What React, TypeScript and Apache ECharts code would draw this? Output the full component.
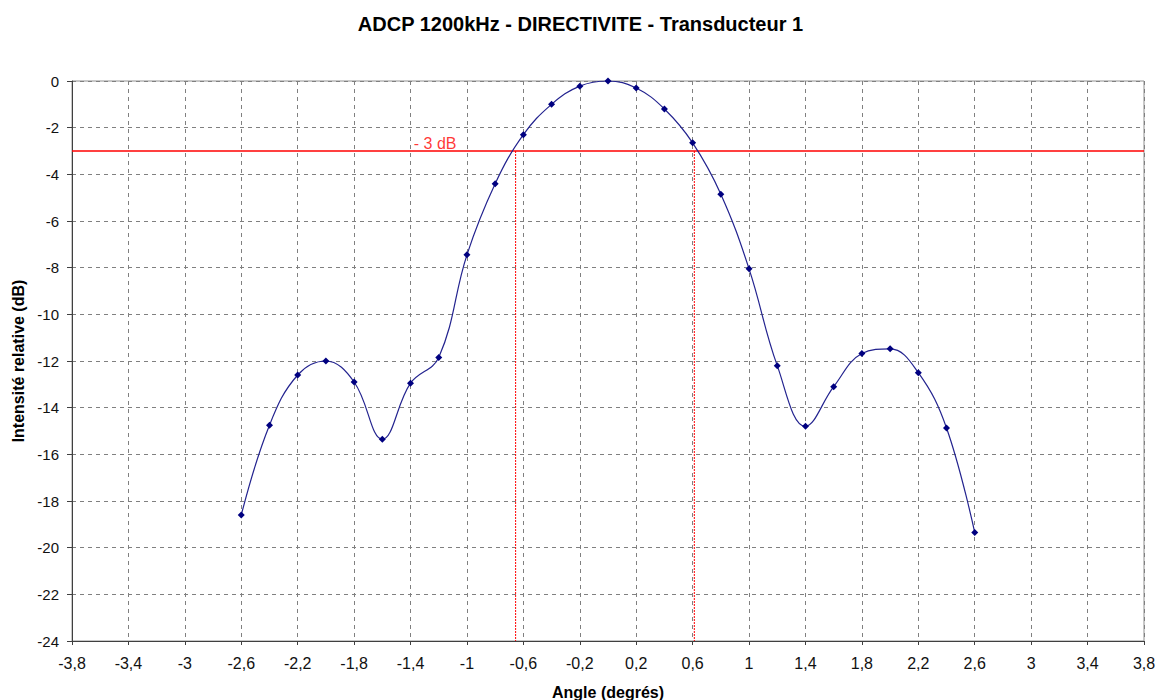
import React, { useEffect, useRef } from "react";
import * as echarts from "echarts";

const TITLE = "ADCP 1200kHz - DIRECTIVITE - Transducteur 1";
const X_NAME = "Angle (degrés)";
const Y_NAME = "Intensité relative (dB)";

const X_MIN = -3.8;
const X_MAX = 3.8;
const X_STEP = 0.4;
const Y_MIN = -24;
const Y_MAX = 0;
const Y_STEP = 2;

const angles = [
  -2.6, -2.4, -2.2, -2.0, -1.8, -1.6, -1.4, -1.2, -1.0, -0.8, -0.6, -0.4, -0.2,
  0.0, 0.2, 0.4, 0.6, 0.8, 1.0, 1.2, 1.4, 1.6, 1.8, 2.0, 2.2, 2.4, 2.6,
];
const intensities = [
  -18.6, -14.75, -12.6, -12.0, -12.9, -15.35, -12.95, -11.85, -7.45, -4.4,
  -2.3, -1.0, -0.22, 0.0, -0.3, -1.2, -2.65, -4.85, -8.05, -12.2, -14.8, -13.1,
  -11.68, -11.48, -12.5, -14.87, -19.35,
];

const THRESHOLD = -3;
const THRESHOLD_LABEL = "- 3 dB";
const THRESHOLD_LABEL_ANGLE = -1.37;
const crossings = [-0.655, 0.612];

const OFFSET = -X_MIN;
const FONT = "Arial, 'Liberation Sans', sans-serif";
const RED = "#ff0000";

const fmt = (v: number) => {
  const r = Math.round((v - OFFSET) * 10) / 10;
  return String(r).replace(".", ",");
};

export default function App() {
  const ref = useRef<HTMLDivElement>(null);
  useEffect(() => {
    if (!ref.current) return;
    const chart = echarts.init(ref.current, undefined, { renderer: "svg" });
    const seriesData = angles.map((a, i) => [a + OFFSET, intensities[i]]);
    const verticalSeries = crossings.map((c) => ({
      type: "line",
      data: [
        [c + OFFSET, THRESHOLD],
        [c + OFFSET, Y_MIN],
      ],
      symbol: "none",
      silent: true,
      lineStyle: { color: RED, width: 1, type: [2, 1] },
      z: 2,
    }));
    chart.setOption({
      animation: false,
      backgroundColor: "#ffffff",
      title: {
        text: TITLE,
        left: "center",
        top: 9,
        textStyle: { fontFamily: FONT, fontSize: 20, fontWeight: "bold", color: "#000" },
      },
      grid: {
        left: 72,
        right: 17,
        top: 81,
        bottom: 59,
        show: true,
        outerBoundsMode: "none",
        containLabel: false,
        borderColor: "#909090",
        borderWidth: 1,
        backgroundColor: "#ffffff",
      },
      xAxis: {
        type: "value",
        min: 0,
        max: X_MAX + OFFSET,
        interval: X_STEP,
        name: X_NAME,
        nameLocation: "middle",
        nameGap: 43,
        nameTextStyle: { fontFamily: FONT, fontSize: 16, fontWeight: "bold", color: "#000" },
        axisLine: { onZero: false, lineStyle: { color: "#404040", width: 1 } },
        axisTick: { show: true, inside: false, length: 4, lineStyle: { color: "#404040" } },
        axisLabel: {
          formatter: (v: number) => fmt(v),
          fontFamily: FONT,
          fontSize: 16,
          color: "#111",
          margin: 14,
        },
        splitLine: { show: true, lineStyle: { color: "#808080", type: [4, 4], width: 1 } },
      },
      yAxis: {
        type: "value",
        min: Y_MIN,
        max: Y_MAX,
        interval: Y_STEP,
        name: Y_NAME,
        nameLocation: "middle",
        nameGap: 46,
        nameTextStyle: { fontFamily: FONT, fontSize: 16, fontWeight: "bold", color: "#000" },
        axisLine: { show: true, onZero: false, lineStyle: { color: "#404040", width: 1 } },
        axisTick: { show: true, inside: false, length: 5, lineStyle: { color: "#404040" } },
        axisLabel: { fontFamily: FONT, fontSize: 15, color: "#111", margin: 13 },
        splitLine: { show: true, lineStyle: { color: "#808080", type: [4, 4], width: 1 } },
      },
      series: [
        {
          type: "line",
          data: [
            [0, THRESHOLD],
            [X_MAX + OFFSET, THRESHOLD],
          ],
          symbol: "none",
          silent: true,
          lineStyle: { color: RED, width: 1.5, type: "solid" },
          z: 2,
        },
        ...verticalSeries,
        {
          type: "line",
          data: seriesData,
          smooth: 0.4,
          symbol: "diamond",
          symbolSize: 7,
          itemStyle: { color: "#000080" },
          lineStyle: { color: "#23238f", width: 1.2 },
          z: 3,
        },
        {
          type: "scatter",
          data: [[THRESHOLD_LABEL_ANGLE + OFFSET, THRESHOLD]],
          symbolSize: 0,
          silent: true,
          label: {
            show: true,
            formatter: THRESHOLD_LABEL,
            position: "right",
            offset: [-6, -8],
            color: RED,
            fontFamily: FONT,
            fontSize: 16,
          },
          z: 4,
        },
      ],
    });
    return () => chart.dispose();
  }, []);
  return (
    <div
      ref={ref}
      style={{ position: "fixed", left: 0, top: 0, width: 1161, height: 700, background: "#fff" }}
    />
  );
}
